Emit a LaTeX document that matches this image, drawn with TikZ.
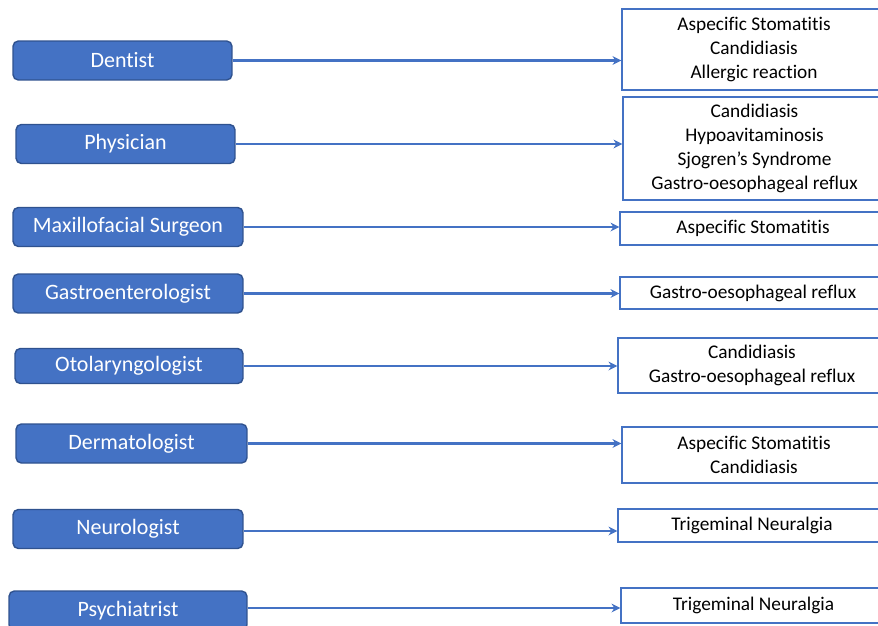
\documentclass[tikz,border=0pt]{standalone}
\usepackage{fontspec}
\setmainfont{Carlito}[Ligatures=NoCommon]
\usetikzlibrary{arrows.meta}
\definecolor{boxblue}{HTML}{4472C4}
\definecolor{boxedge}{HTML}{2F528F}
\begin{document}
\begin{tikzpicture}[x=0.02cm,y=-0.02cm,
  spec/.style={draw=boxedge,line width=0.8pt,fill=boxblue,rounded corners=3pt,text=white,font=\fontsize{12.5}{14}\selectfont,minimum height=0.78cm,inner sep=0pt},
  cond/.style={draw=boxblue,line width=0.8pt,fill=white,align=center,font=\fontsize{11}{13.7}\selectfont,inner sep=0pt},
  link/.style={boxblue,line width=1.3pt,-{Stealth[length=5pt,width=5pt]}}]
\useasboundingbox (0,0) rectangle (878,625);
\node[spec,minimum width=4.38cm] (dentist) at (122.5,60.5) {Dentist};
\node[spec,minimum width=4.38cm] (physician) at (125.5,144) {Physician};
\node[spec,minimum width=4.6cm] (maxillo) at (128,227) {Maxillofacial Surgeon};
\node[spec,minimum width=4.6cm] (gastro) at (128,293.5) {Gastroenterologist};
\node[spec,minimum width=4.56cm,minimum height=0.7cm] (oto) at (129,366) {Otolaryngologist};
\node[spec,minimum width=4.62cm] (derm) at (131.5,443.5) {Dermatologist};
\node[spec,minimum width=4.6cm] (neuro) at (128,529) {Neurologist};
\node[spec,minimum width=4.76cm] (psych) at (128,610.5) {Psychiatrist};
\node[cond,minimum width=5.28cm,minimum height=1.62cm] (dentistdx) at (754,49.5) {Aspecific Stomatitis\\Candidiasis\\Allergic reaction};
\node[cond,minimum width=5.26cm,minimum height=2.06cm] (physiciandx) at (754.5,148.5) {Candidiasis\\Hypoavitaminosis\\Sjogren’s Syndrome\\Gastro-oesophageal reflux};
\node[cond,minimum width=5.32cm,minimum height=0.66cm] (maxillodx) at (753,228.5) {Aspecific Stomatitis};
\node[cond,minimum width=5.32cm,minimum height=0.64cm] (gastrodx) at (753,293) {Gastro-oesophageal reflux};
\node[cond,minimum width=5.36cm,minimum height=1.1cm] (otodx) at (752,365.5) {Candidiasis\\Gastro-oesophageal reflux};
\node[cond,minimum width=5.28cm,minimum height=1.12cm] (dermdx) at (754,455) {Aspecific Stomatitis\\Candidiasis};
\node[cond,minimum width=5.36cm,minimum height=0.66cm] (neurodx) at (752,525.5) {Trigeminal Neuralgia};
\node[cond,minimum width=5.3cm,minimum height=0.7cm] (psychdx) at (753.5,605.5) {Trigeminal Neuralgia};
\draw[link] (dentist.east) -- (dentist.east -| dentistdx.west);
\draw[link] (physician.east) -- (physician.east -| physiciandx.west);
\draw[link] (maxillo.east) -- (maxillo.east -| maxillodx.west);
\draw[link] (gastro.east) -- (gastro.east -| gastrodx.west);
\draw[link] (oto.east) -- (oto.east -| otodx.west);
\draw[link] (derm.east) -- (derm.east -| dermdx.west);
\draw[link] ([yshift=-0.04cm]neuro.east) -- ([yshift=-0.04cm]neuro.east -| neurodx.west);
\draw[link] ([yshift=0.05cm]psych.east) -- ([yshift=0.05cm]psych.east -| psychdx.west);
\end{tikzpicture}
\end{document}
